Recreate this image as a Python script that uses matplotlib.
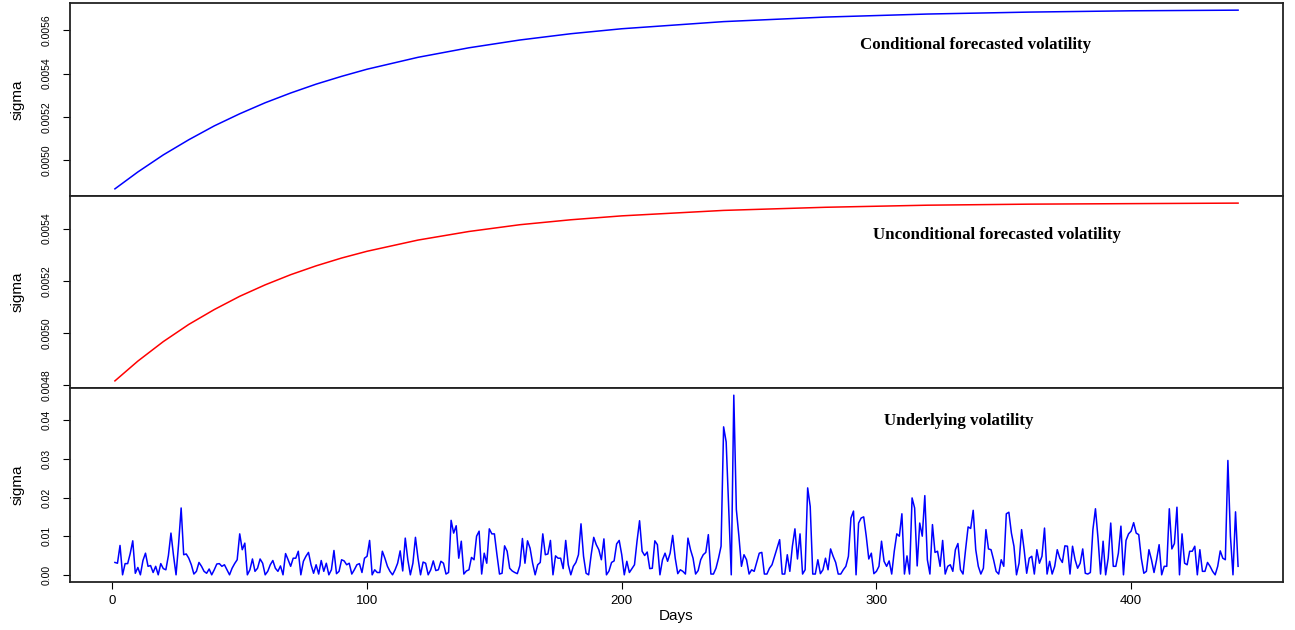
import numpy as np
import matplotlib
matplotlib.use("Agg")
import matplotlib.pyplot as plt

# -- Forecasted sigma (sampled along the forecast horizon)
fc_days = [1, 10, 20, 30, 40, 50, 60, 70, 80, 90, 100, 120, 140, 160, 180,
           200, 240, 280, 320, 360, 400, 442]
sigma_cond = [0.004867, 0.004945, 0.005024, 0.005094, 0.005158, 0.005214,
              0.005265, 0.005310, 0.005351, 0.005387, 0.005420, 0.005475,
              0.005519, 0.005555, 0.005584, 0.005607, 0.005640, 0.005661,
              0.005675, 0.005684, 0.005690, 0.005693]
sigma_uncond = [0.004815, 0.004891, 0.004966, 0.005032, 0.005089, 0.005140,
                0.005184, 0.005223, 0.005257, 0.005287, 0.005313, 0.005356,
                0.005389, 0.005415, 0.005434, 0.005449, 0.005470, 0.005482,
                0.005490, 0.005494, 0.005496, 0.005498]

# -- Underlying daily volatility, in units of 1e-3
sigma_under_milli = [
    3.2, 3.0, 7.6, 0.0, 2.9, 2.9, 5.5, 8.8, 0.4, 1.9, 0.0, 3.7, 5.6, 2.2, 2.4,
    0.6, 2.2, 0.0, 2.9, 1.6, 1.3, 5.0, 10.8, 5.0, 0.0, 8.0, 17.3, 5.2, 5.4, 4.3,
    2.6, 0.2, 0.9, 3.2, 2.2, 0.9, 0.4, 1.5, 0.0, 1.3, 2.8, 2.9, 2.2, 2.6, 1.3,
    0.0, 1.7, 2.9, 3.9, 10.6, 6.5, 8.2, 0.0, 1.3, 4.1, 0.9, 1.7, 4.1, 3.0, 0.0,
    0.9, 2.6, 3.7, 1.7, 0.9, 2.3, 0.0, 5.5, 3.9, 2.2, 4.3, 4.3, 6.1, 0.0, 3.5,
    4.8, 5.8, 2.6, 0.4, 2.6, 0.2, 3.7, 0.9, 3.0, 0.0, 1.3, 6.3, 0.3, 0.9, 3.9,
    3.6, 2.6, 3.0, 0.2, 1.3, 2.6, 2.9, 0.6, 4.3, 4.8, 8.9, 0.0, 1.3, 0.6, 0.6,
    6.1, 4.3, 2.2, 0.9, 0.0, 1.3, 3.0, 6.2, 1.0, 9.5, 3.9, 0.0, 3.0, 9.7, 4.3,
    0.0, 3.3, 3.0, 0.0, 1.3, 3.6, 1.1, 1.3, 3.5, 3.0, 0.2, 0.6, 14.1, 10.8, 12.7,
    4.3, 8.7, 0.2, 1.0, 1.3, 4.5, 3.9, 10.0, 11.3, 0.2, 5.6, 3.0, 11.9, 10.6, 10.6,
    5.2, 0.2, 0.4, 7.5, 6.1, 1.7, 1.0, 0.6, 0.3, 2.4, 9.4, 3.0, 8.8, 6.9, 3.0,
    0.0, 2.6, 3.2, 10.6, 5.2, 5.4, 8.9, 0.0, 4.9, 4.3, 4.3, 1.6, 8.9, 2.6, 0.0,
    2.2, 3.2, 5.2, 13.2, 4.8, 0.4, 0.0, 5.2, 9.7, 7.8, 6.5, 3.9, 9.3, 0.0, 1.0,
    3.2, 3.6, 8.0, 8.9, 5.2, 0.0, 3.5, 0.6, 1.6, 2.6, 8.7, 14.0, 6.1, 5.0, 5.9,
    1.6, 1.7, 8.8, 7.8, 0.0, 3.9, 5.6, 3.5, 5.6, 10.2, 4.3, 0.3, 1.3, 0.9, 0.2,
    9.5, 6.5, 4.3, 0.2, 1.1, 3.9, 5.2, 5.8, 10.4, 0.2, 0.2, 1.7, 4.3, 7.4, 38.3,
    34.4, 17.0, 0.0, 46.5, 16.9, 10.0, 2.2, 5.2, 3.9, 0.2, 1.3, 0.9, 3.2, 5.6, 5.8,
    0.2, 0.2, 1.7, 2.6, 4.8, 6.9, 9.1, 0.2, 0.2, 5.2, 0.9, 7.4, 11.9, 4.1, 10.6,
    0.2, 1.3, 22.5, 17.7, 0.2, 0.2, 3.9, 0.3, 1.3, 4.3, 1.3, 6.7, 4.8, 3.2, 0.2,
    0.2, 1.3, 2.2, 4.8, 14.7, 16.5, 0.0, 13.4, 14.7, 15.0, 10.0, 4.1, 5.6, 0.3, 0.9,
    2.2, 8.7, 3.5, 2.2, 3.6, 0.2, 6.1, 10.6, 10.0, 15.8, 0.2, 4.9, 0.2, 19.9, 17.3,
    2.3, 13.4, 10.0, 20.5, 3.9, 0.2, 13.0, 5.8, 6.1, 2.2, 8.9, 0.2, 2.2, 2.6, 0.9,
    6.5, 8.1, 1.3, 0.2, 6.5, 12.4, 12.0, 16.7, 6.5, 2.2, 0.2, 1.7, 11.7, 6.7, 6.5,
    3.9, 0.9, 0.2, 3.9, 2.2, 15.8, 16.2, 10.8, 7.4, 0.0, 3.0, 11.7, 6.5, 0.4, 4.3,
    4.8, 0.2, 6.5, 3.0, 4.8, 12.1, 0.2, 3.5, 0.2, 2.2, 6.5, 4.3, 3.2, 7.5, 7.4,
    0.2, 7.4, 3.9, 1.7, 3.0, 6.7, 0.4, 0.2, 0.6, 11.7, 17.1, 9.5, 0.2, 8.7, 0.0,
    4.3, 13.4, 2.2, 2.2, 5.6, 12.6, 0.0, 8.9, 10.6, 11.3, 13.5, 10.8, 10.4, 4.3, 0.4,
    0.9, 6.5, 3.9, 0.6, 3.9, 7.8, 0.0, 2.2, 2.2, 17.1, 6.7, 8.1, 17.5, 0.0, 10.6,
    3.0, 2.6, 6.1, 6.1, 7.4, 0.0, 6.5, 0.9, 0.9, 3.2, 2.2, 0.9, 0.0, 2.2, 6.2,
    4.3, 3.9, 29.6, 10.0, 0.0, 16.3, 2.2,
]
sigma_under = np.array(sigma_under_milli) / 1000.0
under_days = np.arange(1, len(sigma_under) + 1)

# tick positions on each panel
top_yticks = [0.0050, 0.0052, 0.0054, 0.0056]
mid_yticks = [0.0048, 0.0050, 0.0052, 0.0054]
bot_yticks = [0.00, 0.01, 0.02, 0.03, 0.04]
day_ticks = [0, 100, 200, 300, 400]

TITLE_FONT = dict(family="Liberation Serif", fontweight="bold", fontsize=12.2)
LABEL_FONT = dict(family="Liberation Sans", fontsize=11)

plt.rcParams["font.family"] = "Liberation Sans"

fig = plt.figure(figsize=(12.95, 6.30), dpi=100)
left, width = 70 / 1295, 1213 / 1295
ax_top = fig.add_axes([left, 1 - 196 / 630, width, 193 / 630])
ax_mid = fig.add_axes([left, 1 - 388 / 630, width, 192 / 630])
ax_bot = fig.add_axes([left, 1 - 582 / 630, width, 194 / 630])

ax_top.plot(fc_days, sigma_cond, color="#0000ff", lw=1.1)
ax_mid.plot(fc_days, sigma_uncond, color="#ff0000", lw=1.1)
ax_bot.plot(under_days, sigma_under, color="#0000ff", lw=1.1)

for ax, ticks, fmt in ((ax_top, top_yticks, "%.4f"),
                       (ax_mid, mid_yticks, "%.4f"),
                       (ax_bot, bot_yticks, "%.2f")):
    ax.set_yticks(ticks, [fmt % t for t in ticks], rotation=90, va="center",
                  fontsize=7.5)
    ax.margins(x=0.04, y=0.04)
    ax.set_xlim(1 - 0.04 * 441, 442 + 0.04 * 441)
    ax.tick_params(axis="y", direction="out", length=5, width=0.8, pad=8)
    for sp in ax.spines.values():
        sp.set_linewidth(1.3)
        sp.set_color("#222222")
    ax.set_ylabel("sigma", **LABEL_FONT)
    ax.yaxis.set_label_coords(-0.0375, 0.5)

for ax in (ax_top, ax_mid):
    ax.tick_params(axis="x", bottom=False, labelbottom=False)

ax_bot.set_xticks(day_ticks)
ax_bot.tick_params(axis="x", direction="out", length=5, width=0.8,
                   labelsize=9.5, pad=4)
ax_bot.set_xlabel("Days", labelpad=2, **LABEL_FONT)

ax_top.text(339, 0.782, "Conditional forecasted volatility",
            transform=ax_top.get_xaxis_transform(), ha="center", va="center",
            **TITLE_FONT)
ax_mid.text(347.5, 0.797, "Unconditional forecasted volatility",
            transform=ax_mid.get_xaxis_transform(), ha="center", va="center",
            **TITLE_FONT)
ax_bot.text(332.5, 0.83, "Underlying volatility",
            transform=ax_bot.get_xaxis_transform(), ha="center", va="center",
            **TITLE_FONT)

fig.savefig("out.png", dpi=100)
